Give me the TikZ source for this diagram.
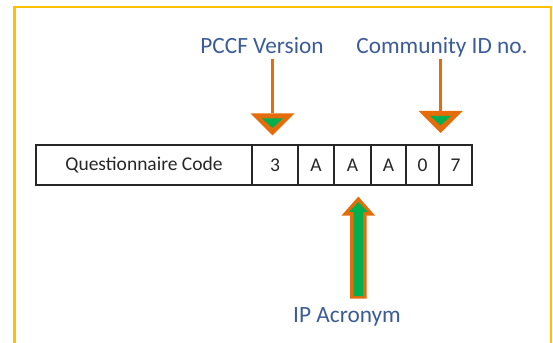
\documentclass[tikz,border=0pt]{standalone}
\usepackage{fontspec}
\setmainfont{Carlito}
\usetikzlibrary{calc}

\definecolor{frameyellow}{HTML}{FFC000}
\definecolor{arroworange}{HTML}{E46C0A}
\definecolor{arrowgreen}{HTML}{00B050}
\definecolor{labelblue}{HTML}{3B5C97}
\definecolor{celltext}{HTML}{262626}

\tikzset{
  cell/.style={draw=black!85, line width=1.2pt, minimum height=40pt, inner sep=0pt,
    text=celltext, font=\fontsize{19.5}{20}\selectfont},
  fieldlabel/.style={text=labelblue, font=\fontsize{23.3}{25}\selectfont,
    inner sep=0pt, anchor=base},
  shaft/.style={draw=arroworange, line width=3pt},
  % downward triangular head: orange outline around a green core
  headdown/.pic={
    \fill[arroworange] (-22,0) -- (22,0) -- (0,22) -- cycle;
    \fill[arrowgreen] (-10.5,5) -- (10.5,5) -- (0,14.5) -- cycle;
  },
  % upward block arrow, tip at the origin
  blockup/.pic={
    \fill[arroworange] (0,0) -- (16.8,19) -- (8.3,19) -- (8.3,102)
      -- (-8.3,102) -- (-8.3,19) -- (-16.8,19) -- cycle;
    \fill[arrowgreen] (0,5.5) -- (9.5,15.5) -- (4.8,15.5) -- (4.8,99.5)
      -- (-4.8,99.5) -- (-4.8,15.5) -- (-9.5,15.5) -- cycle;
  }
}

\begin{document}
\begin{tikzpicture}[x=1pt,y=-1pt]
\useasboundingbox (0,0) rectangle (553,342);

% open frame
\draw[frameyellow, line width=2.2pt] (14.5,350) -- (14.5,7) -- (551,7) -- (551,350);

% code table
\node[cell, minimum width=216pt] (q)  at (144,165)   {Questionnaire Code};
\node[cell, minimum width=46pt]  (c1) at (275,165)   {3};
\node[cell, minimum width=36pt]  (c2) at (316,165)   {A};
\node[cell, minimum width=37pt]  (c3) at (352.5,165) {A};
\node[cell, minimum width=35pt]  (c4) at (388.5,165) {A};
\node[cell, minimum width=33pt]  (c5) at (422.5,165) {0};
\node[cell, minimum width=33pt]  (c6) at (455.5,165) {7};

% field labels
\node[fieldlabel] (pccf) at (262,54)  {PCCF Version};
\node[fieldlabel] (comm) at (442,54)  {Community ID no.};
\node[fieldlabel] (ip)   at (347,322) {IP Acronym};

% PCCF version pointer
\coordinate (pHead) at ($(c1.north)+(-2.5,-31)$);
\draw[shaft] ($(pccf.base -| pHead)+(0,5)$) -- (pHead);
\pic at (pHead) {headdown};

% community ID pointer
\coordinate (cHead) at ($(c5.north east)+(1,-33.5)$);
\draw[shaft] ($(comm.base -| cHead)+(0,5)$) -- (cHead);
\pic at (cHead) {headdown};

% IP acronym pointer
\pic at ($(c3.south)+(5.8,11)$) {blockup};
\end{tikzpicture}
\end{document}
